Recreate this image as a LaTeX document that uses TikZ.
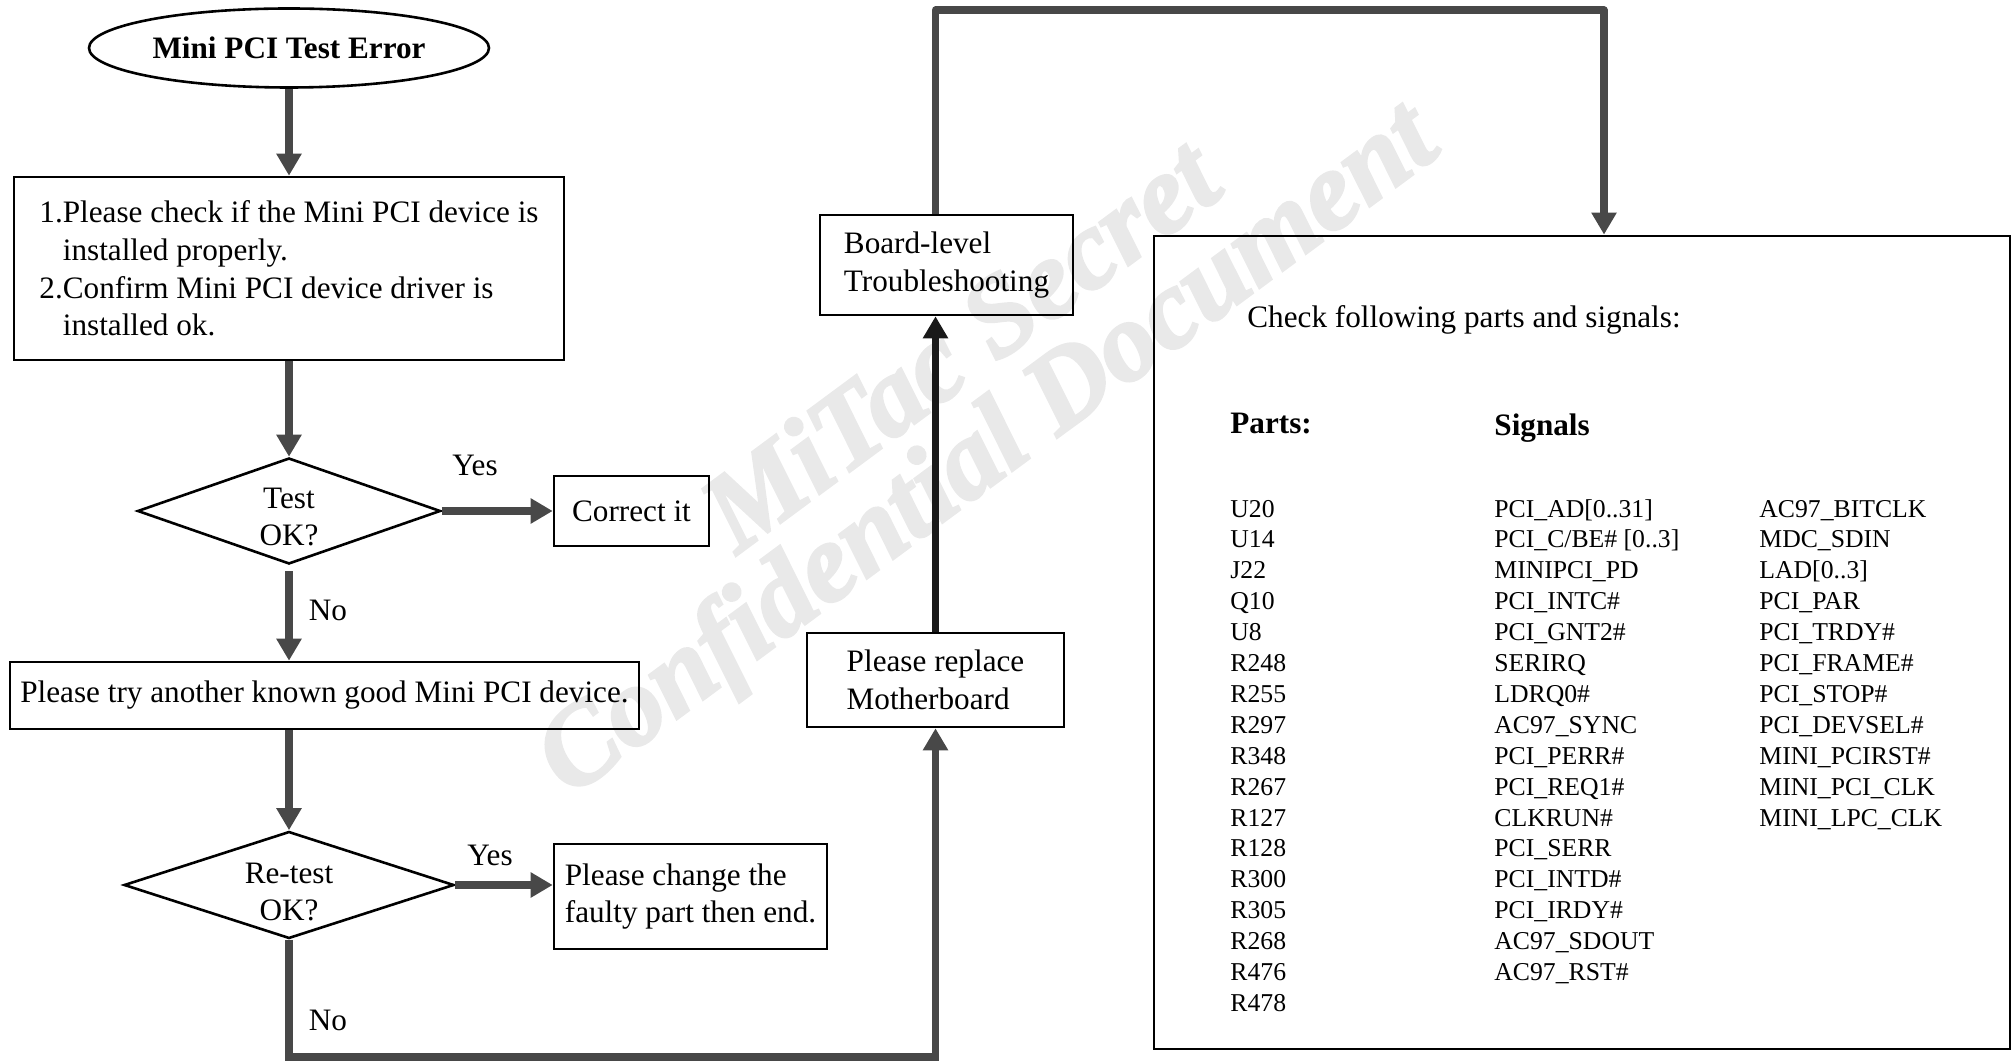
\documentclass[tikz,border=0pt]{standalone}
\usepackage{fontspec}
\setmainfont{Liberation Serif}
\newfontfamily\wmfont{Liberation Serif}[BoldItalicFeatures={FakeBold=2.5}]
\usetikzlibrary{shapes.geometric,arrows.meta}
\definecolor{conn}{RGB}{72,72,72}
\definecolor{connk}{RGB}{25,25,25}
\definecolor{wmark}{RGB}{233,233,233}
\newcommand{\fmain}{\fontsize{15.6}{18.85}\selectfont}
\newcommand{\flist}{\fontsize{12.85}{15.45}\selectfont}
\begin{document}
\begin{tikzpicture}[x=0.5pt,y=-0.5pt,
  box/.style={draw=black, line width=1.3pt, inner sep=0pt, font=\fmain, align=left},
  txt/.style={inner sep=0pt, font=\fmain},
  lst/.style={inner sep=0pt, font=\flist, anchor=base west},
  wmtext/.style={inner sep=0pt, text=wmark, rotate=36.5, font=\wmfont\fontsize{56}{56}\selectfont\bfseries\itshape},
  conn/.style={draw=conn, line width=3.6pt, -{Triangle[length=11pt,width=12pt]}},
  connb/.style={draw=connk, line width=3.6pt, -{Triangle[length=11pt,width=12pt]}}]
\useasboundingbox (0,0) rectangle (2016,1063);
% watermark
\node[wmtext] (wm1) at (959,343) {MiTac Secret};
\node[wmtext] (wm2) at (990,453) {Confidential Document};
% left column
\node[draw=black, line width=1.3pt, ellipse, inner sep=0pt, minimum width=200pt, minimum height=39.5pt, font=\fmain\bfseries] (start) at (289,48) {Mini PCI Test Error};
\node[box, minimum width=275pt, minimum height=91.5pt] (b1) at (289,268.5) {1.Please check if the Mini PCI device is\\\phantom{1.}installed properly.\\2.Confirm Mini PCI device driver is\\\phantom{2.}installed ok.};
\node[draw=black, line width=1.3pt, diamond, inner sep=0pt, minimum width=151.5pt, minimum height=53pt] (d1) at (289,511) {};
\node[txt, align=center] (d1t) at (289,517) {Test\\OK?};
\node[box, minimum width=77.5pt, minimum height=35pt] (cor) at (631.5,511) {Correct it};
\node[box, minimum width=314.5pt, minimum height=33.5pt] (b2) at (324.5,695.5) {Please try another known good Mini PCI device.};
\node[draw=black, line width=1.3pt, diamond, inner sep=0pt, minimum width=165pt, minimum height=53.5pt] (d2) at (289,885) {};
\node[txt, align=center] (d2t) at (289,892) {Re-test\\OK?};
\node[box, minimum width=136.5pt, minimum height=52.5pt] (b4) at (690.5,896.5) {Please change the\\faulty part then end.};
% middle column
\node[box, minimum width=128.5pt, minimum height=47pt] (mb) at (935.5,680) {Please replace\\Motherboard};
\node[box, minimum width=126.5pt, minimum height=50pt] (bl) at (946.5,265) {Board-level\\Troubleshooting};
% right box
\node[draw=black, line width=1.4pt, inner sep=0pt, minimum width=428pt, minimum height=406.5pt] (rb) at (1582,642.5) {};
\node[txt, anchor=base west] (chk) at (1247,328) {Check following parts and signals:};
\node[txt, anchor=base west, font=\fmain\bfseries] (hp) at (1230,434) {Parts:};
\node[txt, anchor=base west, font=\fmain\bfseries] (hs) at (1494,436) {Signals};
\foreach \t [count=\i from 0] in {U20,U14,J22,Q10,U8,R248,R255,R297,R348,R267,R127,R128,R300,R305,R268,R476,R478}
  \node[lst] (p\i) at (1230,517+30.9*\i) {\t};
\foreach \t [count=\i from 0] in {{PCI\_AD[0..31]},{PCI\_C/BE\# [0..3]},{MINIPCI\_PD},{PCI\_INTC\#},{PCI\_GNT2\#},{SERIRQ},{LDRQ0\#},{AC97\_SYNC},{PCI\_PERR\#},{PCI\_REQ1\#},{CLKRUN\#},{PCI\_SERR},{PCI\_INTD\#},{PCI\_IRDY\#},{AC97\_SDOUT},{AC97\_RST\#}}
  \node[lst] (s\i) at (1494,517+30.9*\i) {\t};
\foreach \t [count=\i from 0] in {{AC97\_BITCLK},{MDC\_SDIN},{LAD[0..3]},{PCI\_PAR},{PCI\_TRDY\#},{PCI\_FRAME\#},{PCI\_STOP\#},{PCI\_DEVSEL\#},{MINI\_PCIRST\#},{MINI\_PCI\_CLK},{MINI\_LPC\_CLK}}
  \node[lst] (t\i) at (1759,517+30.9*\i) {\t};
% connectors
\draw[conn] (start.south) -- (b1.north);
\draw[conn] (b1.south) -- (d1.north);
\draw[conn] (d1.east) -- (cor.west);
\node[txt] (y1) at (475,465) {Yes};
\draw[conn, shorten <=3pt] (d1.south) -- (d1.south |- b2.north);
\node[txt] (n1) at (328,610) {No};
\draw[conn] (d2.north |- b2.south) -- (d2.north);
\draw[conn] (d2.east) -- (d2.east -| b4.west);
\node[txt] (y2) at (490,855) {Yes};
\coordinate (bc) at (289,1057);
\draw[conn] (d2.south) -- (bc) -| (mb.south);
\node[txt] (n2) at (328,1020) {No};
\draw[connb] (mb.north) -- (mb.north |- bl.south);
\coordinate (tc) at (1604,10);
\draw[conn, line join=round] (mb.north |- bl.north) |- (tc) -- (tc |- rb.north);
\end{tikzpicture}
\end{document}
